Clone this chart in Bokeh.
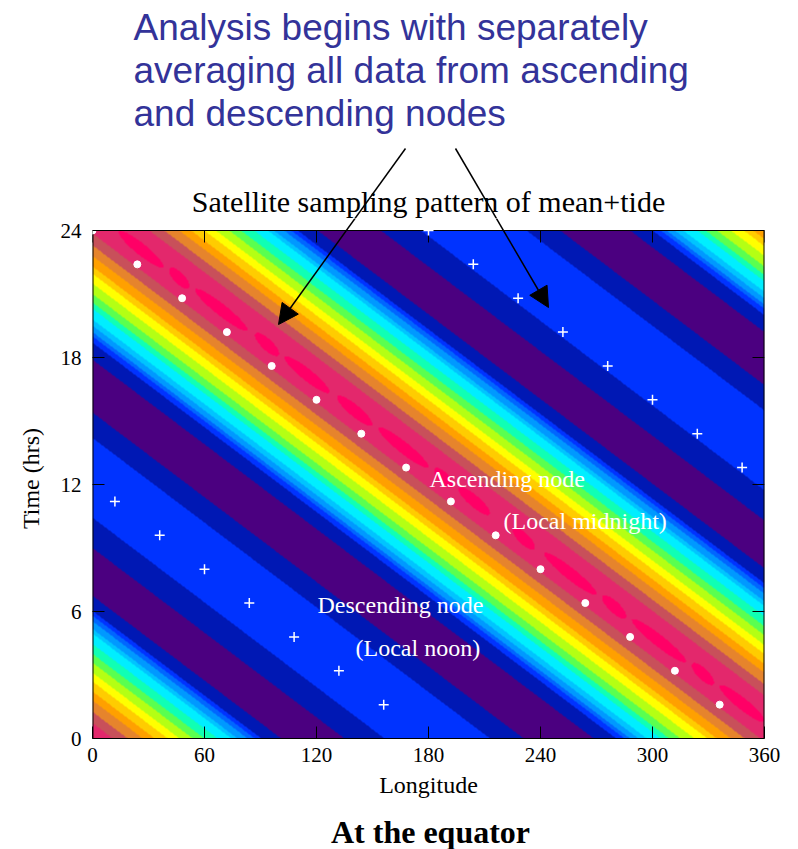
import numpy as np
from bokeh.plotting import figure
from bokeh.layouts import column
from bokeh.models import (LinearColorMapper, Label, Arrow, NormalHead, FixedTicker, Range1d)
from bokeh.embed import file_html
from bokeh.resources import INLINE

# ---------------- data ----------------
x_ticks = [0, 60, 120, 180, 240, 300, 360]
y_ticks = [0, 6, 12, 18, 24]

# ascending-node samples (white dots): longitude (deg), time (hrs)
asc_lon = [0, 24, 48, 72, 96, 120, 144, 168, 192, 216, 240, 264, 288, 312, 336]
asc_time = [24.0, 22.4, 20.8, 19.2, 17.6, 16.0, 14.4, 12.8, 11.2, 9.6, 8.0, 6.4, 4.8, 3.2, 1.6]

# descending-node samples (white plus signs)
desc_lon = [12, 36, 60, 84, 108, 132, 156, 180, 204, 228, 252, 276, 300, 324, 348]
desc_time = [11.2, 9.6, 8.0, 6.4, 4.8, 3.2, 1.6, 24.0, 22.4, 20.8, 19.2, 17.6, 16.0, 14.4, 12.8]

# filled-contour field: contour level vs. phase of local time (hrs)
tide_period = 25.3
phase_edges = [0.73, 1.26, 1.80, 2.22, 2.69, 3.11, 3.58, 4.00, 4.47, 4.96, 5.18, 5.54,
               5.80, 6.03, 6.74, 9.00, 10.43, 14.20, 15.40, 17.90, 18.70, 19.00, 19.20,
               19.50, 19.80, 20.30, 20.60, 21.00, 21.50, 21.96, 22.30, 22.80, 23.30, 23.86]
phase_levels = [15, 14, 13, 12, 11, 10, 9, 8, 7, 6, 5, 4, 3, 2, 1, 0,
                1, 2, 1, 0, 1, 2, 3, 4, 5, 6, 7, 8, 9, 10, 11, 12, 13, 14, 15]

# hot-pink maxima patches inside the main band (longitude extents)
hot_start = [14, 41, 55, 87, 103, 131, 153, 183, 196, 225, 242, 273, 289, 321, 336]
hot_end = [38, 52, 83, 100, 127, 150, 180, 193, 213, 237, 270, 286, 318, 333, 360]
hot_center_lt = 24.85
hot_halfwidth = 0.34

palette = ["#4B0080", "#0018B4", "#0033FF", "#0066FF", "#0099FF", "#00C4FF",
           "#00EEFF", "#10FFB4", "#5AFF50", "#B4FF14", "#FFFF00", "#FFCC00",
           "#FFA000", "#E6842C", "#C8505A", "#E3286C", "#FF0066"]

# ---------------- field ----------------
nx, ny = 672, 508
lon_c = (np.arange(nx) + 0.5) * 360.0 / nx
t_c = (np.arange(ny) + 0.5) * 24.0 / ny
LON, T = np.meshgrid(lon_c, t_c)
LT = T + LON / 15.0
psi = np.mod(LT, tide_period)
idx = np.searchsorted(np.array(phase_edges), psi, side="right")
field = np.array(phase_levels, dtype=float)[idx]
for a, b in zip(hot_start, hot_end):
    mid = 0.5 * (a + b)
    half = 0.5 * (b - a)
    s = 1.0 - ((LON - mid) / half) ** 2
    w = hot_halfwidth * np.sqrt(np.clip(s, 0, None))
    field[(s > 0) & (np.abs(LT - hot_center_lt) < w)] = 16
field = field.astype(np.float32)

# ---------------- layout geometry (page pixels) ----------------
W, H = 798, 849
TOP_H = 218            # header strip: slide text, title, arrow tails
BOT_H = 38             # footer strip: "At the equator"
FL, FR = 92, 34
BOX_TOP, BOX_BOTTOM = 230, 738
MAIN_H = H - TOP_H - BOT_H
SERIF = "Liberation Serif"
SANS = "Liberation Sans"
BLUE = "#333399"

def dx(px):
    return (px - FL) * 360.0 / (W - FL - FR)

def dy(py):
    return (BOX_BOTTOM - py) * 24.0 / (BOX_BOTTOM - BOX_TOP)

arrows = [(405, 148, 278, 324), (455, 148, 548, 307)]

def strip(height, y_top):
    f = figure(width=W, height=height, x_range=Range1d(0, 360),
               y_range=Range1d(y_top + height, y_top),
               output_backend="svg", toolbar_location=None, title=None,
               x_axis_location=None, y_axis_location=None,
               min_border_left=FL, min_border_right=FR, min_border_top=0, min_border_bottom=0)
    f.outline_line_color = None
    f.grid.visible = False
    f.background_fill_color = "white"
    f.border_fill_color = "white"
    return f

def label(fig, text, x, y, size, color, font, align="left", style="normal"):
    fig.add_layout(Label(x=x, y=y, text=text, text_font=font, text_font_size=size,
                         text_color=color, text_align=align, text_baseline="middle",
                         text_font_style=style))

# ---- header ----
head = strip(TOP_H, 0)
label(head, "Analysis begins with separately", dx(133), 27, "37px", BLUE, SANS)
label(head, "averaging all data from ascending", dx(133), 70, "37px", BLUE, SANS)
label(head, "and descending nodes", dx(133), 113, "37px", BLUE, SANS)
label(head, "Satellite sampling pattern of mean+tide", dx(428), 201, "30px", "black", SERIF,
      align="center")
for (x0, y0, x1, y1) in arrows:
    head.add_layout(Arrow(x_start=dx(x0), y_start=y0, x_end=dx(x1), y_end=y1, end=None,
                          line_color="black", line_width=1.5))

# ---- main plot ----
y_top = dy(TOP_H)   # frame reaches up to the header; the box itself ends at 24 h
p = figure(width=W, height=MAIN_H, x_range=Range1d(0, 360), y_range=Range1d(0, y_top),
           output_backend="svg", toolbar_location=None, title=None,
           min_border_left=FL, min_border_right=FR, min_border_top=0,
           min_border_bottom=H - BOT_H - BOX_BOTTOM)
p.background_fill_color = "white"
p.border_fill_color = "white"
p.outline_line_color = None
p.grid.visible = False

mapper = LinearColorMapper(palette=palette, low=-0.5, high=len(palette) - 0.5)
p.image(image=[field], x=0, y=0, dw=360, dh=24, color_mapper=mapper)

# box (left, top, right edges) and inward ticks on top and right edges
p.segment(x0=[0, 0, 360], y0=[0, 24, 0], x1=[0, 360, 360], y1=[24, 24, 24],
          line_color="black", line_width=[2, 1, 2])
tick_len_x = 12 * 360.0 / (W - FL - FR)
tick_len_y = 12 * 24.0 / (BOX_BOTTOM - BOX_TOP)
p.segment(x0=x_ticks, y0=[24] * len(x_ticks), x1=x_ticks, y1=[24 - tick_len_y] * len(x_ticks),
          line_color="black", line_width=1)
p.segment(x0=[360] * len(y_ticks), y0=y_ticks, x1=[360 - tick_len_x] * len(y_ticks), y1=y_ticks,
          line_color="black", line_width=1)

p.scatter(asc_lon, asc_time, marker="circle", size=7, fill_color="white", line_color="white")
p.scatter(desc_lon, desc_time, marker="cross", size=10, line_color="white", line_width=1.5)

for ax in [p.xaxis[0], p.yaxis[0]]:
    ax.major_tick_in = 12
    ax.major_tick_out = 0
    ax.minor_tick_in = 0
    ax.minor_tick_out = 0
    ax.axis_line_color = "black"
    ax.major_tick_line_color = "black"
    ax.major_label_text_font = SERIF
    ax.major_label_text_font_size = "21px"
    ax.major_label_text_color = "black"
    ax.axis_label_text_font = SERIF
    ax.axis_label_text_font_size = "24px"
    ax.axis_label_text_font_style = "normal"
    ax.axis_label_text_color = "black"
p.yaxis.axis_line_color = None
p.xaxis.ticker = FixedTicker(ticks=x_ticks)
p.yaxis.ticker = FixedTicker(ticks=y_ticks)
p.xaxis.axis_label = "Longitude"
p.yaxis.axis_label = "Time (hrs)"
p.xaxis.major_label_standoff = 9
p.yaxis.major_label_standoff = 11
p.xaxis.axis_label_standoff = 7
p.yaxis.axis_label_standoff = 14

label(p, "Ascending node", dx(429), dy(478), "24px", "white", SERIF)
label(p, "(Local midnight)", dx(503), dy(520), "24px", "white", SERIF)
label(p, "Descending node", dx(317), dy(604), "24px", "white", SERIF)
label(p, "(Local noon)", dx(355), dy(647), "24px", "white", SERIF)

for (x0, y0, x1, y1) in arrows:
    p.add_layout(Arrow(x_start=dx(x0), y_start=dy(y0), x_end=dx(x1), y_end=dy(y1),
                       line_color="black", line_width=1.5,
                       end=NormalHead(size=20, fill_color="black", line_color="black")))

# ---- footer ----
foot = strip(BOT_H, H - BOT_H)
label(foot, "At the equator", dx(430), 831, "32px", "black", SERIF, align="center", style="bold")

layout = column(head, p, foot, spacing=0)
open("out.html", "w").write(file_html(layout, INLINE))
